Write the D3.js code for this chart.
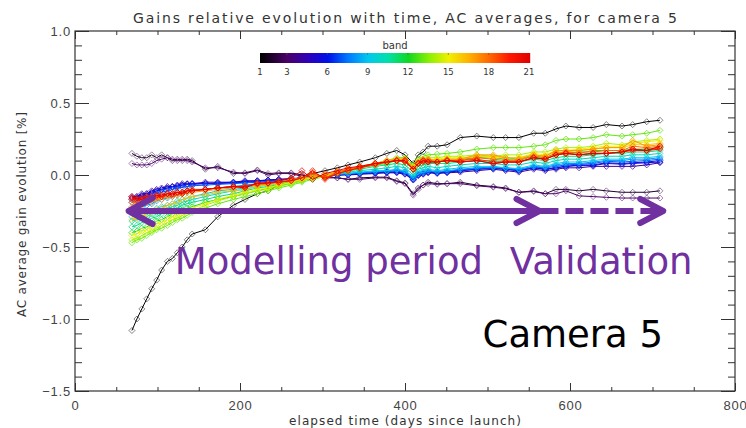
<!DOCTYPE html>
<html>
<head>
<meta charset="utf-8">
<script src="https://cdn.jsdelivr.net/npm/d3@7"></script>
<style>
  body { margin: 0; background: #fff; }
  svg { display: block; font-family: "DejaVu Sans", sans-serif; }
</style>
</head>
<body>
<svg width="746" height="428"></svg>
<script>
// elapsed time of each AC average (days since launch)
const days = [69,75,81,87,93,99,105,112,118,124,130,136,142,
  158,173,192,206,221,234,247,262,275,288,303,318,331,345,
  364,378,390,400,410,416,422,428,439,451,467,487,507,
  522,538,556,570,583,595,611,628,644,663,676,693,709];

// relative gain evolution [%], one array per band
const band1 = [-1.08,-1.00,-0.93,-0.86,-0.79,-0.73,-0.66,-0.60,-0.58,-0.54,-0.50,-0.45,-0.41,
  -0.38,-0.29,-0.21,-0.17,-0.13,-0.11,-0.07,-0.04,-0.01,0.01,0.03,0.05,0.07,0.09,
  0.12,0.15,0.17,0.14,0.08,0.14,0.16,0.20,0.20,0.21,0.26,0.27,0.26,
  0.26,0.26,0.29,0.29,0.32,0.34,0.33,0.33,0.35,0.34,0.35,0.37,0.38];
const band2 = [0.15,0.13,0.12,0.12,0.14,0.12,0.14,0.12,0.10,0.11,0.10,0.11,0.10,
  0.04,0.06,0.01,0.015,0.035,0.01,0.015,0.015,0.0,-0.01,-0.01,-0.02,-0.03,-0.02,
  -0.015,-0.015,-0.04,-0.055,-0.13,-0.09,-0.07,-0.05,-0.06,-0.06,-0.05,-0.07,-0.08,
  -0.09,-0.12,-0.11,-0.13,-0.10,-0.10,-0.11,-0.10,-0.11,-0.12,-0.12,-0.12,-0.11];
const band3 = [0.08,0.07,0.07,0.07,0.08,0.10,0.11,0.12,0.11,0.10,0.11,0.10,0.09,
  0.05,0.05,0.02,0.01,0.03,0.0,0.01,0.01,-0.01,-0.01,-0.02,-0.02,-0.03,-0.03,
  -0.02,-0.02,-0.045,-0.06,-0.14,-0.10,-0.07,-0.06,-0.065,-0.06,-0.06,-0.075,-0.085,
  -0.095,-0.12,-0.115,-0.13,-0.13,-0.11,-0.145,-0.15,-0.155,-0.16,-0.16,-0.16,-0.16];
const band4 = [-0.15,-0.15,-0.13,-0.13,-0.11,-0.10,-0.09,-0.08,-0.08,-0.07,-0.06,-0.06,-0.06,
  -0.05,-0.05,-0.05,-0.04,-0.04,-0.035,-0.03,-0.03,-0.02,-0.01,-0.01,0.0,0.0,0.005,
  0.01,0.015,0.015,0.005,-0.035,-0.005,0.005,0.015,0.01,0.015,0.02,0.03,0.04,
  0.03,0.02,0.04,0.03,0.04,0.05,0.05,0.06,0.06,0.06,0.06,0.07,0.085];
const band5 = [-0.16,-0.15,-0.14,-0.13,-0.12,-0.11,-0.10,-0.09,-0.08,-0.08,-0.07,-0.065,-0.06,
  -0.06,-0.055,-0.05,-0.045,-0.04,-0.035,-0.03,-0.025,-0.02,-0.01,-0.005,0.0,0.005,0.01,
  0.015,0.02,0.02,0.01,-0.03,0.0,0.01,0.02,0.015,0.02,0.03,0.04,0.045,
  0.04,0.03,0.05,0.04,0.05,0.06,0.065,0.065,0.08,0.075,0.08,0.085,0.09];
const band6 = [-0.17,-0.16,-0.15,-0.14,-0.13,-0.11,-0.10,-0.09,-0.085,-0.075,-0.07,-0.065,-0.065,
  -0.06,-0.06,-0.055,-0.05,-0.045,-0.04,-0.035,-0.03,-0.02,-0.01,-0.01,0.0,0.005,0.01,
  0.015,0.02,0.02,0.01,-0.03,0.0,0.01,0.02,0.015,0.02,0.03,0.04,0.05,
  0.04,0.03,0.05,0.04,0.05,0.06,0.07,0.07,0.085,0.08,0.085,0.09,0.10];
const band7 = [-0.19,-0.18,-0.17,-0.16,-0.15,-0.13,-0.12,-0.11,-0.10,-0.09,-0.085,-0.08,-0.075,
  -0.07,-0.065,-0.06,-0.055,-0.05,-0.045,-0.04,-0.03,-0.025,-0.015,-0.01,0.0,0.01,0.015,
  0.02,0.025,0.03,0.02,-0.025,0.005,0.015,0.025,0.02,0.025,0.035,0.045,0.05,
  0.045,0.035,0.055,0.05,0.06,0.07,0.075,0.08,0.095,0.09,0.095,0.10,0.11];
const band8 = [-0.24,-0.23,-0.22,-0.21,-0.20,-0.18,-0.17,-0.16,-0.15,-0.14,-0.13,-0.12,-0.11,
  -0.10,-0.09,-0.08,-0.07,-0.06,-0.055,-0.045,-0.035,-0.025,-0.015,-0.01,0.005,0.01,0.015,
  0.025,0.03,0.035,0.025,-0.02,0.01,0.02,0.03,0.025,0.03,0.04,0.05,0.055,
  0.05,0.04,0.06,0.055,0.07,0.08,0.08,0.09,0.10,0.10,0.11,0.11,0.12];
const band9 = [-0.29,-0.28,-0.27,-0.26,-0.25,-0.23,-0.22,-0.21,-0.20,-0.18,-0.17,-0.16,-0.15,
  -0.13,-0.11,-0.10,-0.09,-0.07,-0.06,-0.05,-0.04,-0.03,-0.015,-0.01,0.01,0.01,0.02,
  0.03,0.03,0.04,0.03,-0.01,0.02,0.03,0.04,0.03,0.04,0.05,0.06,0.06,
  0.05,0.045,0.07,0.06,0.08,0.09,0.09,0.10,0.11,0.11,0.12,0.12,0.13];
const band10 = [-0.32,-0.31,-0.30,-0.29,-0.27,-0.26,-0.25,-0.23,-0.22,-0.21,-0.19,-0.18,-0.17,
  -0.15,-0.13,-0.11,-0.10,-0.08,-0.07,-0.06,-0.045,-0.03,-0.015,-0.005,0.015,0.02,0.03,
  0.04,0.05,0.06,0.05,0.0,0.04,0.05,0.06,0.05,0.06,0.07,0.08,0.08,
  0.07,0.07,0.09,0.08,0.10,0.11,0.11,0.12,0.13,0.13,0.14,0.14,0.15];
const band11 = [-0.36,-0.35,-0.33,-0.32,-0.30,-0.29,-0.27,-0.26,-0.24,-0.23,-0.21,-0.20,-0.19,
  -0.17,-0.15,-0.13,-0.11,-0.09,-0.08,-0.065,-0.05,-0.035,-0.02,-0.005,0.02,0.03,0.04,
  0.06,0.07,0.08,0.07,0.02,0.06,0.07,0.08,0.08,0.08,0.09,0.10,0.10,
  0.09,0.09,0.11,0.10,0.12,0.13,0.13,0.14,0.15,0.15,0.16,0.16,0.17];
const band12 = [-0.40,-0.39,-0.37,-0.36,-0.34,-0.32,-0.31,-0.29,-0.27,-0.26,-0.24,-0.23,-0.22,
  -0.19,-0.17,-0.15,-0.13,-0.11,-0.09,-0.075,-0.06,-0.04,-0.02,-0.005,0.02,0.035,0.05,
  0.07,0.08,0.10,0.09,0.04,0.08,0.09,0.10,0.10,0.10,0.11,0.12,0.12,
  0.11,0.11,0.13,0.12,0.15,0.15,0.16,0.16,0.17,0.17,0.18,0.18,0.19];
const band13 = [-0.47,-0.45,-0.44,-0.42,-0.40,-0.38,-0.37,-0.35,-0.33,-0.31,-0.30,-0.28,-0.26,
  -0.23,-0.20,-0.17,-0.15,-0.13,-0.11,-0.09,-0.07,-0.05,-0.03,-0.01,0.01,0.03,0.05,
  0.08,0.10,0.12,0.12,0.07,0.11,0.13,0.14,0.145,0.15,0.16,0.18,0.19,
  0.19,0.19,0.20,0.21,0.24,0.25,0.25,0.26,0.28,0.27,0.28,0.29,0.31];
const band14 = [-0.45,-0.44,-0.42,-0.40,-0.39,-0.37,-0.35,-0.33,-0.31,-0.30,-0.28,-0.26,-0.25,
  -0.21,-0.18,-0.15,-0.13,-0.11,-0.10,-0.08,-0.06,-0.04,-0.02,-0.01,0.02,0.04,0.05,
  0.08,0.09,0.11,0.11,0.06,0.10,0.11,0.12,0.12,0.13,0.13,0.14,0.13,
  0.14,0.14,0.16,0.16,0.18,0.19,0.19,0.20,0.22,0.21,0.23,0.24,0.25];
const band15 = [-0.42,-0.41,-0.39,-0.38,-0.36,-0.34,-0.33,-0.31,-0.29,-0.28,-0.26,-0.25,-0.23,
  -0.20,-0.17,-0.14,-0.12,-0.10,-0.09,-0.07,-0.05,-0.03,-0.02,-0.01,0.02,0.03,0.05,
  0.07,0.09,0.10,0.10,0.05,0.09,0.11,0.11,0.11,0.12,0.12,0.13,0.12,
  0.12,0.12,0.15,0.14,0.17,0.17,0.18,0.19,0.20,0.20,0.22,0.23,0.24];
const band16 = [-0.31,-0.30,-0.29,-0.27,-0.26,-0.24,-0.23,-0.21,-0.20,-0.19,-0.17,-0.16,-0.15,
  -0.14,-0.12,-0.11,-0.10,-0.08,-0.07,-0.06,-0.04,-0.03,-0.01,0.0,0.02,0.04,0.06,
  0.08,0.10,0.11,0.11,0.05,0.09,0.11,0.11,0.10,0.11,0.11,0.13,0.13,
  0.12,0.12,0.14,0.13,0.16,0.16,0.17,0.18,0.19,0.19,0.21,0.21,0.22];
const band17 = [-0.22,-0.21,-0.21,-0.19,-0.19,-0.17,-0.17,-0.15,-0.15,-0.14,-0.13,-0.12,-0.12,
  -0.11,-0.10,-0.09,-0.08,-0.07,-0.06,-0.05,-0.03,-0.02,-0.01,0.0,0.02,0.04,0.06,
  0.08,0.10,0.11,0.11,0.05,0.09,0.11,0.11,0.10,0.11,0.11,0.14,0.14,
  0.12,0.11,0.14,0.13,0.17,0.17,0.17,0.18,0.19,0.19,0.24,0.20,0.21];
const band18 = [-0.19,-0.19,-0.18,-0.17,-0.17,-0.16,-0.15,-0.14,-0.13,-0.13,-0.12,-0.11,-0.11,
  -0.10,-0.09,-0.085,-0.08,-0.065,-0.06,-0.05,-0.035,-0.02,0.01,-0.02,0.02,0.04,0.055,
  0.08,0.09,0.10,0.10,0.04,0.08,0.10,0.10,0.09,0.10,0.10,0.12,0.11,
  0.10,0.10,0.13,0.12,0.15,0.16,0.15,0.17,0.17,0.17,0.20,0.19,0.20];
const band19 = [-0.17,-0.17,-0.16,-0.16,-0.15,-0.15,-0.14,-0.13,-0.13,-0.12,-0.12,-0.11,-0.10,
  -0.10,-0.09,-0.08,-0.08,-0.06,-0.055,-0.05,-0.04,-0.02,0.02,-0.02,0.01,0.03,0.05,
  0.07,0.09,0.10,0.09,0.04,0.08,0.09,0.10,0.09,0.10,0.10,0.11,0.09,
  0.09,0.09,0.12,0.11,0.14,0.15,0.14,0.15,0.15,0.16,0.18,0.17,0.19];
const band20 = [-0.16,-0.17,-0.16,-0.15,-0.15,-0.14,-0.14,-0.13,-0.13,-0.12,-0.12,-0.11,-0.11,
  -0.10,-0.09,-0.08,-0.08,-0.06,-0.055,-0.05,-0.04,-0.02,0.03,-0.03,0.01,0.03,0.05,
  0.08,0.09,0.10,0.10,0.04,0.08,0.10,0.09,0.09,0.10,0.09,0.10,0.08,
  0.09,0.09,0.12,0.11,0.14,0.15,0.14,0.15,0.15,0.16,0.17,0.17,0.18];
const band21 = [-0.15,-0.16,-0.17,-0.15,-0.16,-0.14,-0.15,-0.13,-0.14,-0.12,-0.13,-0.11,-0.11,
  -0.10,-0.09,-0.08,-0.09,-0.055,-0.055,-0.04,-0.02,0.03,-0.03,0.01,0.03,0.05,0.06,
  0.08,0.09,0.10,0.10,0.04,0.08,0.10,0.09,0.09,0.10,0.09,0.10,0.08,
  0.09,0.09,0.12,0.11,0.14,0.15,0.14,0.15,0.15,0.16,0.18,0.17,0.20];

const bands = [band1,band2,band3,band4,band5,band6,band7,band8,band9,band10,band11,
  band12,band13,band14,band15,band16,band17,band18,band19,band20,band21];
const bandTicks = [1,3,6,9,12,15,18,21];
const xTicks = [0,200,400,600,800];
const yTicks = [-1.5,-1.0,-0.5,0.0,0.5,1.0];

// The svg
const svg = d3.select("svg"),
    width = +svg.attr("width"),
    height = +svg.attr("height");

const x = d3.scaleLinear().domain([0,800]).range([75,735]);
const y = d3.scaleLinear().domain([-1.5,1]).range([391,31]);

// IDL-like rainbow colour table for the bands
const color = d3.scaleLinear()
    .domain([1,3,4.5,6,7.5,9,10.5,12,13.5,15,16.5,18,19.5,21])
    .range(["#000000","#4a0068","#3000b8","#0010e8","#0078ff","#00c8f0","#00e0a8",
            "#10d820","#88f000","#f0f000","#ffb000","#ff6800","#ff1800","#e00000"]);

// Axes (ticks pointing inward, IDL style)
const axisCol = "#333";
function styleAxis(g) {
  g.select(".domain").remove();
  g.selectAll("line").attr("stroke", axisCol);
  g.selectAll("text").attr("fill", "#444").style("font-size", "13px").style("letter-spacing", "0.8px");
}
svg.append("g").attr("transform", `translate(0,${y(-1.5)})`)
  .call(d3.axisBottom(x).tickValues(d3.range(0,801,50)).tickSize(-4).tickFormat(""))
  .call(styleAxis);
svg.append("g").attr("transform", `translate(0,${y(-1.5)})`)
  .call(d3.axisBottom(x).tickValues(xTicks).tickSize(-8).tickPadding(10).tickFormat(d3.format("d")))
  .call(styleAxis);
svg.append("g").attr("transform", `translate(0,${y(1)})`)
  .call(d3.axisTop(x).tickValues(d3.range(0,801,50)).tickSize(-4).tickFormat(""))
  .call(styleAxis);
svg.append("g").attr("transform", `translate(0,${y(1)})`)
  .call(d3.axisTop(x).tickValues(xTicks).tickSize(-8).tickFormat(""))
  .call(styleAxis);
svg.append("g").attr("transform", `translate(${x(0)},0)`)
  .call(d3.axisLeft(y).tickValues(d3.range(-15,11,1).map(d => d/10)).tickSize(-7).tickFormat(""))
  .call(styleAxis);
svg.append("g").attr("transform", `translate(${x(0)},0)`)
  .call(d3.axisLeft(y).tickValues(yTicks).tickSize(-14).tickPadding(4).tickFormat(d3.format(".1f")))
  .call(styleAxis);
svg.append("g").attr("transform", `translate(${x(800)},0)`)
  .call(d3.axisRight(y).tickValues(d3.range(-15,11,1).map(d => d/10)).tickSize(-7).tickFormat(""))
  .call(styleAxis);
svg.append("g").attr("transform", `translate(${x(800)},0)`)
  .call(d3.axisRight(y).tickValues(yTicks).tickSize(-14).tickFormat(""))
  .call(styleAxis);

// frame
svg.append("rect")
  .attr("x", x(0)).attr("y", y(1))
  .attr("width", x(800) - x(0)).attr("height", y(-1.5) - y(1))
  .attr("fill", "none").attr("stroke", axisCol).attr("stroke-width", 1.2);

// titles
svg.append("text")
  .attr("x", 133).attr("y", 23)
  .attr("textLength", 544).attr("lengthAdjust", "spacing")
  .style("font-size", "14px").attr("fill", "#333")
  .text("Gains relative evolution with time, AC averages, for camera 5");
svg.append("text")
  .attr("x", 289).attr("y", 425)
  .attr("textLength", 232).attr("lengthAdjust", "spacing")
  .style("font-size", "12px").attr("fill", "#333")
  .text("elapsed time (days since launch)");
svg.append("text")
  .attr("transform", "translate(26,317) rotate(-90)")
  .attr("textLength", 205).attr("lengthAdjust", "spacing")
  .style("font-size", "12px").attr("fill", "#333")
  .text("AC average gain evolution [%]");

// Lines and diamond markers, band 1 first so red ends on top
const line = d3.line().x((d,i) => x(days[i])).y(d => y(d));
const diamond = r => `M0,${-r}L${r},0L0,${r}L${-r},0Z`;
bands.forEach((vals, k) => {
  const c = color(k + 1);
  const g = svg.append("g");
  g.append("path").datum(vals)
    .attr("d", line)
    .attr("fill", "none")
    .attr("stroke", c)
    .attr("stroke-width", 1);
  g.selectAll(".mk").data(vals).join("path")
    .attr("class", "mk")
    .attr("d", diamond(3))
    .attr("transform", (d,i) => `translate(${x(days[i])},${y(d)})`)
    .attr("fill", "none")
    .attr("stroke", c)
    .attr("stroke-width", 0.8)
    .attr("stroke-opacity", k < 3 ? 0.6 : 0.9);
});

// Colour bar
const cb = d3.scaleLinear().domain([1,21]).range([260,529]);
svg.append("g").selectAll("rect")
  .data(d3.range(260,530))
  .join("rect")
  .attr("x", d => d).attr("y", 53)
  .attr("width", 1.2).attr("height", 10)
  .attr("fill", d => color(cb.invert(d)));
svg.append("g").selectAll("line")
  .data(bandTicks.slice(1,-1))
  .join("line")
  .attr("x1", d => cb(d)).attr("x2", d => cb(d))
  .attr("y1", 53).attr("y2", 55)
  .attr("stroke", "#555").attr("stroke-width", 0.6);
svg.append("g").selectAll("text")
  .data(bandTicks)
  .join("text")
  .attr("x", d => cb(d)).attr("y", 75)
  .attr("text-anchor", "middle")
  .style("font-size", "8.5px").attr("fill", "#333")
  .text(d => d);
svg.append("text")
  .attr("x", 395).attr("y", 49)
  .attr("text-anchor", "middle")
  .style("font-size", "10px").attr("fill", "#333")
  .text("band");

// Annotations: modelling / validation periods
const purple = "#7030a0";
const arrowV = -0.25, tStart = 65, tModel = 563, tEnd = 713;
const ann = svg.append("g").attr("stroke", purple).attr("stroke-width", 6).attr("fill", "none");
ann.append("line")
  .attr("x1", x(tStart) + 2).attr("x2", x(tModel) - 2)
  .attr("y1", y(arrowV)).attr("y2", y(arrowV));
ann.append("path")
  .attr("stroke-linecap", "round").attr("stroke-linejoin", "round")
  .attr("d", `M${x(tStart)+24},${y(arrowV)-13}L${x(tStart)},${y(arrowV)}L${x(tStart)+24},${y(arrowV)+13}`);
ann.append("path")
  .attr("stroke-linecap", "round").attr("stroke-linejoin", "round")
  .attr("d", `M${x(tModel)-23},${y(arrowV)-12}L${x(tModel)},${y(arrowV)}L${x(tModel)-23},${y(arrowV)+12}`);
ann.append("line")
  .attr("x1", x(tModel) + 1).attr("x2", x(tEnd) - 3)
  .attr("y1", y(arrowV)).attr("y2", y(arrowV))
  .attr("stroke-dasharray", "18,7");
ann.append("path")
  .attr("stroke-linecap", "round").attr("stroke-linejoin", "round")
  .attr("d", `M${x(tEnd)-23},${y(arrowV)-12}L${x(tEnd)},${y(arrowV)}L${x(tEnd)-23},${y(arrowV)+12}`);

svg.append("text")
  .attr("x", x(121)).attr("y", y(-0.688))
  .style("font-size", "37px").attr("fill", purple)
  .text("Modelling period");
svg.append("text")
  .attr("x", x(527)).attr("y", y(-0.688))
  .style("font-size", "37px").attr("fill", purple)
  .text("Validation");
svg.append("text")
  .attr("x", x(494)).attr("y", y(-1.194))
  .style("font-size", "37px").attr("fill", "#000")
  .text("Camera 5");
</script>
</body>
</html>
